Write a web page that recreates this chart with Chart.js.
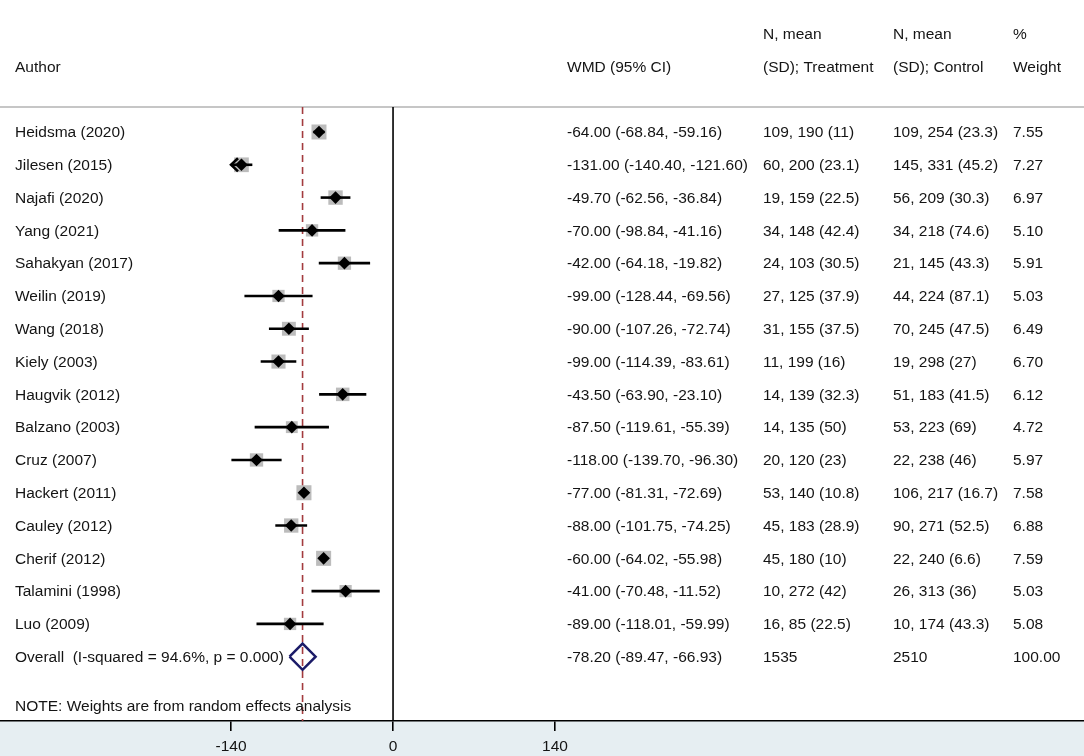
<!DOCTYPE html>
<html>
<head>
<meta charset="utf-8">
<script src="https://cdn.jsdelivr.net/npm/chart.js@4.4.1/dist/chart.umd.min.js"></script>
<style>
  html, body { margin: 0; padding: 0; background: #fff; }
  #forest { display: block; }
</style>
</head>
<body>
<canvas id="forest" width="1084" height="756"></canvas>
<script>
// ==========================================================================
// Data
// ==========================================================================
var authors = ['Heidsma (2020)', 'Jilesen (2015)', 'Najafi (2020)', 'Yang (2021)',
  'Sahakyan (2017)', 'Weilin (2019)', 'Wang (2018)', 'Kiely (2003)', 'Haugvik (2012)',
  'Balzano (2003)', 'Cruz (2007)', 'Hackert (2011)', 'Cauley (2012)', 'Cherif (2012)',
  'Talamini (1998)', 'Luo (2009)'];
var wmd    = [-64.00, -131.00, -49.70, -70.00, -42.00, -99.00, -90.00, -99.00, -43.50, -87.50, -118.00, -77.00, -88.00, -60.00, -41.00, -89.00];
var ciLow  = [-68.84, -140.40, -62.56, -98.84, -64.18, -128.44, -107.26, -114.39, -63.90, -119.61, -139.70, -81.31, -101.75, -64.02, -70.48, -118.01];
var ciHigh = [-59.16, -121.60, -36.84, -41.16, -19.82, -69.56, -72.74, -83.61, -23.10, -55.39, -96.30, -72.69, -74.25, -55.98, -11.52, -59.99];
var treatment = ['109, 190 (11)', '60, 200 (23.1)', '19, 159 (22.5)', '34, 148 (42.4)', '24, 103 (30.5)',
  '27, 125 (37.9)', '31, 155 (37.5)', '11, 199 (16)', '14, 139 (32.3)', '14, 135 (50)', '20, 120 (23)',
  '53, 140 (10.8)', '45, 183 (28.9)', '45, 180 (10)', '10, 272 (42)', '16, 85 (22.5)'];
var control = ['109, 254 (23.3)', '145, 331 (45.2)', '56, 209 (30.3)', '34, 218 (74.6)', '21, 145 (43.3)',
  '44, 224 (87.1)', '70, 245 (47.5)', '19, 298 (27)', '51, 183 (41.5)', '53, 223 (69)', '22, 238 (46)',
  '106, 217 (16.7)', '90, 271 (52.5)', '22, 240 (6.6)', '26, 313 (36)', '10, 174 (43.3)'];
var weights = [7.55, 7.27, 6.97, 5.10, 5.91, 5.03, 6.49, 6.70, 6.12, 4.72, 5.97, 7.58, 6.88, 7.59, 5.03, 5.08];

var overallLabel = 'Overall  (I-squared = 94.6%, p = 0.000)';
var overall = [-78.20, -89.47, -66.93];   // estimate, low, high
var overallTreatment = '1535';
var overallControl = '2510';
var overallWeight = 100.00;

var tickValues = [-140, 0, 140];
var noteText = 'NOTE: Weights are from random effects analysis';

// ==========================================================================
// Layout
// ==========================================================================
var xMin = -339.7, xMax = 597.2;   // 0 sits at x=393 px
var clipLo = -140, clipHi = 140;   // CI lines are cut (with arrow) here
var yMin = 0.238, yMax = 18.96;
var overallRow = authors.length + 1;
var noteRow = overallRow + 1.52;
var colX = { author: 15, wmd: 567, treat: 763, ctrl: 893, weight: 1013 };
var font = '15.5px "Liberation Sans", Arial, sans-serif';
var textColor = '#141414';

function fmt(v) { return v.toFixed(2); }

// ==========================================================================
// Datasets
// ==========================================================================
var datasets = [];

// black point estimates
datasets.push({
  type: 'scatter',
  data: wmd.map(function(v, i) { return { x: v, y: i + 1 }; }),
  pointStyle: 'rectRot',
  pointRadius: 6.3,
  backgroundColor: '#000',
  borderWidth: 0,
  order: 0
});

// overall diamond
var dh = 0.4;
datasets.push({
  type: 'line',
  data: [
    { x: overall[1], y: overallRow },
    { x: overall[0], y: overallRow - dh },
    { x: overall[2], y: overallRow },
    { x: overall[0], y: overallRow + dh },
    { x: overall[1], y: overallRow }
  ],
  borderColor: '#1b1b68',
  borderWidth: 2.5,
  fill: false,
  pointRadius: 0,
  tension: 0,
  order: 0
});

// confidence intervals
wmd.forEach(function(v, i) {
  datasets.push({
    type: 'line',
    data: [{ x: Math.max(ciLow[i], clipLo), y: i + 1 }, { x: Math.min(ciHigh[i], clipHi), y: i + 1 }],
    borderColor: '#000',
    borderWidth: 2.6,
    pointRadius: 0,
    order: 1
  });
  // arrow for clipped intervals
  if (ciLow[i] < clipLo) {
    datasets.push({
      type: 'line',
      data: [{ x: clipLo + 6, y: i + 1 - 0.2 }, { x: clipLo, y: i + 1 }, { x: clipLo + 6, y: i + 1 + 0.2 }],
      borderColor: '#000',
      borderWidth: 2.6,
      pointRadius: 0,
      order: 1
    });
  }
});

// grey weight boxes
datasets.push({
  type: 'scatter',
  data: wmd.map(function(v, i) { return { x: v, y: i + 1 }; }),
  pointStyle: 'rect',
  pointRadius: weights.map(function(w) { return 10.6 * Math.sqrt(w / 7.55); }),
  backgroundColor: '#bcbcbc',
  borderWidth: 0,
  order: 2
});

// overall effect (dashed) and null line
datasets.push({
  type: 'line',
  data: [{ x: overall[0], y: yMin }, { x: overall[0], y: yMax }],
  borderColor: '#a33b3e',
  borderWidth: 1.6,
  borderDash: [7, 5],
  pointRadius: 0,
  order: 3
});
datasets.push({
  type: 'line',
  data: [{ x: 0, y: yMin }, { x: 0, y: yMax }],
  borderColor: '#000',
  borderWidth: 1.6,
  pointRadius: 0,
  order: 3
});

// ==========================================================================
// Table text + backgrounds
// ==========================================================================
var tablePlugin = {
  id: 'forestTable',
  beforeDraw: function(chart) {
    var ctx = chart.ctx, area = chart.chartArea;
    ctx.save();
    ctx.fillStyle = '#fff';
    ctx.fillRect(0, 0, chart.width, chart.height);
    ctx.fillStyle = '#e6eef2';
    ctx.fillRect(0, area.bottom, chart.width, chart.height - area.bottom);
    // header rule
    ctx.strokeStyle = '#c6c6c6';
    ctx.lineWidth = 2;
    ctx.beginPath();
    ctx.moveTo(0, area.top);
    ctx.lineTo(chart.width, area.top);
    ctx.stroke();
    ctx.restore();
  },
  afterDraw: function(chart) {
    var ctx = chart.ctx, ys = chart.scales.y;
    ctx.save();
    ctx.font = font;
    ctx.fillStyle = textColor;
    ctx.textBaseline = 'middle';
    ctx.textAlign = 'left';

    // header
    ctx.fillText('Author', colX.author, 68);
    ctx.fillText('WMD (95% CI)', colX.wmd, 68);
    ctx.fillText('N, mean', colX.treat, 35);
    ctx.fillText('(SD); Treatment', colX.treat, 68);
    ctx.fillText('N, mean', colX.ctrl, 35);
    ctx.fillText('(SD); Control', colX.ctrl, 68);
    ctx.fillText('%', colX.weight, 35);
    ctx.fillText('Weight', colX.weight, 68);

    authors.forEach(function(a, i) {
      var y = ys.getPixelForValue(i + 1) + 1;
      ctx.fillText(a, colX.author, y);
      ctx.fillText(fmt(wmd[i]) + ' (' + fmt(ciLow[i]) + ', ' + fmt(ciHigh[i]) + ')', colX.wmd, y);
      ctx.fillText(treatment[i], colX.treat, y);
      ctx.fillText(control[i], colX.ctrl, y);
      ctx.fillText(fmt(weights[i]), colX.weight, y);
    });

    var yo = ys.getPixelForValue(overallRow) + 1;
    ctx.fillText(overallLabel, colX.author, yo);
    ctx.fillText(fmt(overall[0]) + ' (' + fmt(overall[1]) + ', ' + fmt(overall[2]) + ')', colX.wmd, yo);
    ctx.fillText(overallTreatment, colX.treat, yo);
    ctx.fillText(overallControl, colX.ctrl, yo);
    ctx.fillText(fmt(overallWeight), colX.weight, yo);

    ctx.fillText(noteText, colX.author, ys.getPixelForValue(noteRow));
    ctx.restore();
  }
};

// ==========================================================================
// Chart
// ==========================================================================
new Chart(document.getElementById('forest'), {
  type: 'scatter',
  data: { datasets: datasets },
  plugins: [tablePlugin],
  options: {
    responsive: false,
    animation: false,
    layout: { autoPadding: false, padding: { top: 107, left: 0, right: 0, bottom: 0 } },
    plugins: {
      legend: { display: false },
      tooltip: { enabled: false }
    },
    scales: {
      x: {
        type: 'linear',
        min: xMin,
        max: xMax,
        afterBuildTicks: function(scale) {
          scale.ticks = tickValues.map(function(v) { return { value: v }; });
        },
        afterFit: function(scale) { scale.height = 35; },
        grid: {
          display: true,
          drawOnChartArea: false,
          drawTicks: true,
          tickLength: 10,
          color: '#000',
          lineWidth: 1.6
        },
        border: { display: true, color: '#000', width: 1.6 },
        ticks: {
          padding: 6,
          color: '#141414',
          maxRotation: 0,
          font: { family: '"Liberation Sans", Arial, sans-serif', size: 15.5 }
        }
      },
      y: {
        type: 'linear',
        reverse: true,
        min: yMin,
        max: yMax,
        display: false
      }
    }
  }
});
</script>
</body>
</html>
